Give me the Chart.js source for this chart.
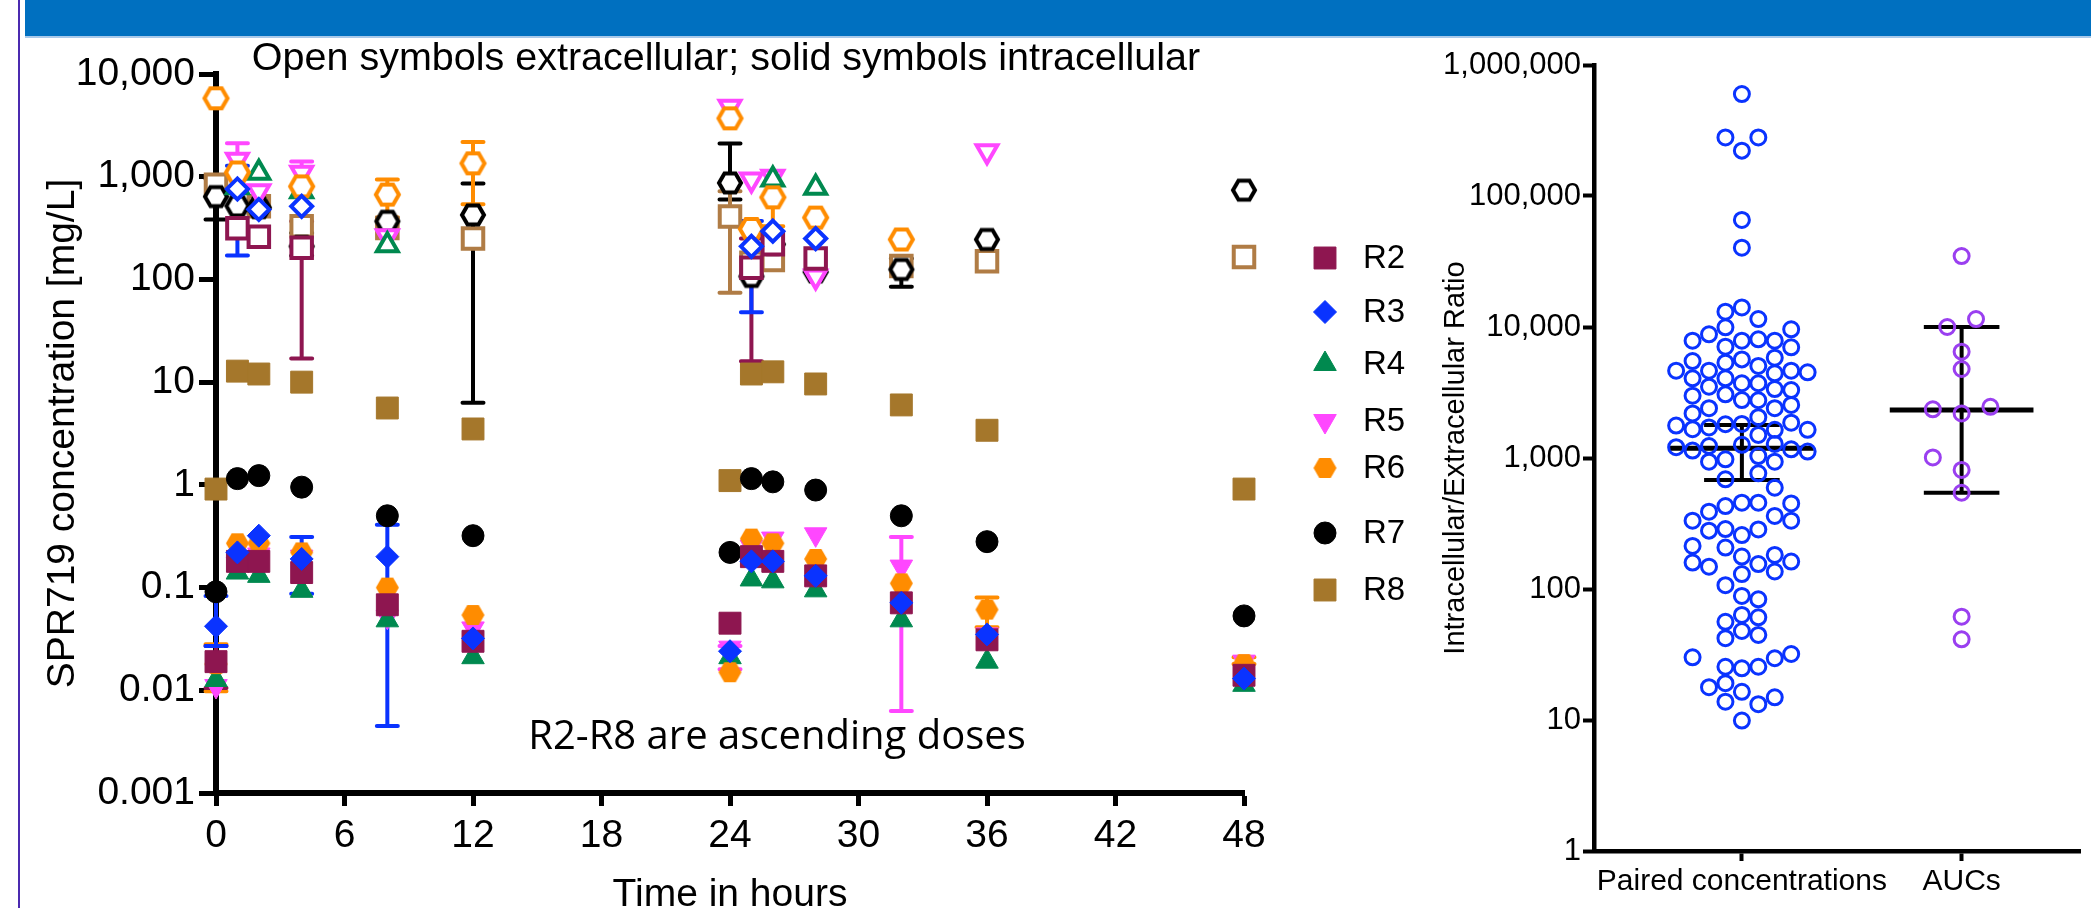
<!DOCTYPE html>
<html>
<head>
<meta charset="utf-8">
<script src="https://cdn.jsdelivr.net/npm/chart.js@4.4.1/dist/chart.umd.min.js"></script>
<style>
  html, body { margin: 0; padding: 0; background: #fff; overflow: hidden; }
  body { width: 2091px; height: 908px; position: relative; }
  #banner { position: absolute; left: 25px; top: 0; right: 0; height: 36px; background: #0070c0; border-bottom: 2px solid #a9c9ea; }
  #edge { position: absolute; left: 18px; top: 0; width: 2px; height: 908px; background: #4b2ab0; }
  #concChart { position: absolute; left: 0; top: 0; }
  #ratioChart { position: absolute; left: 1430px; top: 0; }
</style>
</head>
<body>
<div id="banner"></div>
<div id="edge"></div>
<canvas id="concChart" width="1430" height="940"></canvas>
<canvas id="ratioChart" width="661" height="940"></canvas>

<script>
// ---- data: SPR719 concentration vs time ----
const times = [0, 1, 2, 4, 8, 12, 24, 25, 26, 28, 32, 36, 48];
const doses = ['R2', 'R3', 'R4', 'R5', 'R6', 'R7', 'R8'];
const timeTicks = [0, 6, 12, 18, 24, 30, 36, 42, 48];
const concTicks = [0.001, 0.01, 0.1, 1, 10, 100, 1000, 10000];
const concTickLabels = ['0.001', '0.01', '0.1', '1', '10', '100', '1,000', '10,000'];

// intracellular (solid symbols)
const intraR2 = [0.019, 0.18, 0.18, 0.14, 0.068, 0.030, 0.045, 0.20, 0.18, 0.13, 0.071, 0.031, 0.014];
const intraR3 = [0.042, 0.22, 0.32, 0.19, 0.20, 0.032, 0.024, 0.18, 0.18, 0.13, 0.071, 0.035, 0.013];
const intraR4 = [0.0126, 0.14, 0.13, 0.093, 0.048, 0.021, 0.021, 0.12, 0.115, 0.094, 0.048, 0.019, 0.0113];
const intraR5 = [0.011, 0.17, 0.21, 0.20, 0.052, 0.040, 0.026, 0.25, 0.30, 0.33, 0.16, 0.035, 0.019];
const intraR6 = [0.018, 0.27, 0.27, 0.22, 0.10, 0.054, 0.015, 0.30, 0.27, 0.19, 0.11, 0.061, 0.018];
const intraR7 = [0.091, 1.15, 1.23, 0.95, 0.50, 0.32, 0.22, 1.15, 1.07, 0.89, 0.50, 0.28, 0.053];
const intraR8 = [0.91, 12.8, 12, 10, 5.6, 3.5, 1.1, 12, 12.6, 9.6, 6.0, 3.4, 0.91];

// extracellular (open symbols)
const extraR2 = [null, 315, 260, 203, null, null, null, 130, 220, 160, null, null, null];
const extraR3 = [null, 760, 480, 515, null, null, null, 210, 295, 250, null, null, null];
const extraR4 = [null, 790, 1090, 720, 215, null, null, null, 940, 780, null, null, null];
const extraR5 = [null, 1460, 720, 1090, 263, null, 4800, 940, 1000, 107, null, 1770, null];
const extraR6 = [5800, 1100, null, 805, 670, 1350, 3700, 310, 630, 400, 245, null, null];
const extraR7 = [640, 520, 500, 210, 368, 425, 870, 107, 220, 118, 125, 245, 740];
const extraR8 = [836, null, 515, 330, 316, 250, 410, 145, 155, null, 135, 150, 165];

// error bars: [time, low, high]
const errIntraR2 = [[0, 0.0105, 0.027]];
const errIntraR3 = [[0, 0.027, 0.083], [4, 0.087, 0.31], [8, 0.0045, 0.41]];
const errIntraR5 = [[24, 0.016, 0.027], [32, 0.0063, 0.31]];
const errIntraR6 = [[0, 0.0098, 0.028], [36, 0.041, 0.08], [48, 0.018, 0.021]];
const errExtraR2 = [[4, 17, 368], [25, 16, 250]];
const errExtraR3 = [[1, 171, 1280], [25, 48, 370]];
const errExtraR5 = [[1, 1000, 2120], [4, 800, 1410]];
const errExtraR6 = [[8, 400, 940], [12, 540, 2180], [26, 330, 630]];
const errExtraR7 = [[0, 383, 950], [4, 170, 283], [12, 6.3, 860], [24, 600, 2100], [32, 85, 160]];
const errExtraR8 = [[24, 74, 720]];

// ---- data: intracellular / extracellular ratio ----
const ratioCategories = ['Paired concentrations', 'AUCs'];
const ratioTicks = [1, 10, 100, 1000, 10000, 100000, 1000000];
const ratioTickLabels = ['1', '10', '100', '1,000', '10,000', '100,000', '1,000,000'];
const pairedRatio = [600000, 280000, 280000, 222000, 65600, 40300,
  14100, 13100, 11500, 9950, 9600, 8800, 8060, 7860, 7860, 7860, 7080, 7000,
  5830, 5660, 5500, 5340, 5040, 4640, 4640, 4640, 4510, 4430,
  4060, 4060, 3720, 3720, 3500, 3360, 3300, 3060, 2990, 2770, 2760, 2540,
  2400, 2400, 2190, 2050, 1860, 1820, 1810, 1770, 1710, 1660, 1640, 1640, 1500,
  1280, 1260, 1235, 1210, 1165, 1140, 1120, 1035, 977, 937, 937, 764, 688, 593,
  456, 456, 450, 430, 389, 361, 332, 332, 287, 285, 279, 258,
  213, 207, 182, 177, 162, 159, 155, 148, 136, 130, 107,
  88.5, 83.4, 63.4, 60.8, 56.2, 47.8, 44.6, 42.1,
  31.9, 30.1, 29.6, 25.5, 25.5, 24.8, 19.1, 17.8, 16.4, 14.9, 13.8, 13.2, 9.9];
// swarm column of each point (0 = category centre)
const pairedLane = [0, -1, 1, 0, 0, 0,
  0, -1, 1, -1, 3, -2, 1, -3, 0, 2, -1, 3,
  2, 0, -3, -1, 1, -4, -2, 3, 4, 2,
  -3, -1, 0, 1, -2, 2, 3, -1, -3, 0, 1, 3,
  -2, 2, -3, 1, 3, 0, -1, -4, -2, -3, 2, 4, 1,
  2, 0, -2, -4, 3, -3, 4, 1, -1, -2, 2, 1, -1, 2,
  0, 1, 3, -1, -2, 2, -3, 3, -1, 1, -2, 0,
  -3, -1, 2, 0, 3, -3, 1, -2, 2, 0, -1,
  0, 1, 0, 1, -1, 0, 1, -1,
  3, -3, 2, -1, 1, 0, -1, -2, 0, 2, -1, 1, 0];
const aucRatio = [34800, 11500, 10000, 6480, 4780, 2460, 2355, 2190, 1010, 810, 543, 61.5, 41.3];
const aucLane = [0, 1, -1, 0, 0, 2, -2, 0, -2, 0, 0, 0, 0];
// [low, median, high]
const pairedSpread = [679, 1185, 1785];
const aucSpread = [543, 2320, 10000];

// ---- styles ----
const FONT = "'Liberation Sans', Arial, sans-serif";
Chart.defaults.font.family = FONT;
Chart.defaults.color = '#000';

const doseColor = { R2: '#8e1650', R3: '#0a33ff', R4: '#00894f', R5: '#ff47ff', R6: '#ff8c00', R7: '#000000', R8: '#a5772b' };
const openColor = { R2: '#8e1650', R3: '#0a33ff', R4: '#00894f', R5: '#ff47ff', R6: '#ff8c00', R7: '#000000', R8: '#b07c45' };

function hexImage(R, fill, stroke, lw) {
  const pad = (lw || 0) + 2;
  const w = Math.ceil(2 * R + pad * 2), h = Math.ceil(Math.sqrt(3) * R + pad * 2);
  const c = document.createElement('canvas');
  c.width = w; c.height = h;
  const g = c.getContext('2d');
  g.beginPath();
  for (let i = 0; i < 6; i++) {
    const a = Math.PI / 3 * i;
    const px = w / 2 + R * Math.cos(a), py = h / 2 + R * Math.sin(a);
    if (i) g.lineTo(px, py); else g.moveTo(px, py);
  }
  g.closePath();
  if (fill) { g.fillStyle = fill; g.fill(); }
  if (stroke) { g.lineWidth = lw; g.strokeStyle = stroke; g.stroke(); }
  return c;
}

const solidStyle = {
  R2: { pointStyle: 'rect', radius: 15.5, rotation: 0 },
  R3: { pointStyle: 'rectRot', radius: 11.5, rotation: 0 },
  R4: { pointStyle: 'triangle', radius: 13, rotation: 0 },
  R5: { pointStyle: 'triangle', radius: 13, rotation: 180 },
  R6: { pointStyle: hexImage(11.5, doseColor.R6, null, 0), radius: 11, rotation: 0 },
  R7: { pointStyle: 'circle', radius: 11, rotation: 0 },
  R8: { pointStyle: 'rect', radius: 15.5, rotation: 0 }
};
const openStyle = {
  R2: { pointStyle: 'rect', radius: 14.5, rotation: 0 },
  R3: { pointStyle: 'rectRot', radius: 10.5, rotation: 0 },
  R4: { pointStyle: 'triangle', radius: 12, rotation: 0 },
  R5: { pointStyle: 'triangle', radius: 12, rotation: 180 },
  R6: { pointStyle: hexImage(11.5, '#fff', openColor.R6, 4), radius: 12, rotation: 0 },
  R7: { pointStyle: hexImage(11, '#fff', openColor.R7, 4), radius: 12, rotation: 0 },
  R8: { pointStyle: 'rect', radius: 14.5, rotation: 0 }
};
const drawOrder = { R3: 0, R2: 1, R6: 2, R4: 3, R5: 4, R7: 5, R8: 6 };

const intra = { R2: intraR2, R3: intraR3, R4: intraR4, R5: intraR5, R6: intraR6, R7: intraR7, R8: intraR8 };
const extra = { R2: extraR2, R3: extraR3, R4: extraR4, R5: extraR5, R6: extraR6, R7: extraR7, R8: extraR8 };
const errorSets = [
  { color: openColor.R7, bars: errExtraR7 },
  { color: openColor.R8, bars: errExtraR8 },
  { color: openColor.R6, bars: errExtraR6 },
  { color: openColor.R5, bars: errExtraR5 },
  { color: openColor.R2, bars: errExtraR2 },
  { color: openColor.R3, bars: errExtraR3 },
  { color: doseColor.R6, bars: errIntraR6 },
  { color: doseColor.R5, bars: errIntraR5 },
  { color: doseColor.R2, bars: errIntraR2 },
  { color: doseColor.R3, bars: errIntraR3 }
];

function toPoints(values) {
  return times.map((t, i) => ({ x: t, y: values[i] })).filter(p => p.y != null);
}

const concDatasets = [];
doses.forEach(d => {
  const s = solidStyle[d], o = openStyle[d];
  concDatasets.push({
    label: d,
    data: toPoints(intra[d]),
    pointStyle: s.pointStyle, pointRadius: s.radius, pointHoverRadius: s.radius, pointRotation: s.rotation,
    backgroundColor: doseColor[d], borderColor: doseColor[d], pointBorderWidth: 1,
    showLine: false, clip: false, order: drawOrder[d]
  });
  concDatasets.push({
    label: d + ' extracellular',
    data: toPoints(extra[d]),
    pointStyle: o.pointStyle, pointRadius: o.radius, pointHoverRadius: o.radius, pointRotation: o.rotation,
    backgroundColor: '#fff', borderColor: openColor[d], pointBorderWidth: 4,
    showLine: false, clip: false, order: 10 + drawOrder[d]
  });
});

const errorBarPlugin = {
  id: 'errorBars',
  beforeDatasetsDraw(chart) {
    const { ctx, scales: { x, y } } = chart;
    ctx.save();
    ctx.lineWidth = 4;
    ctx.lineCap = 'round';
    errorSets.forEach(es => {
      ctx.strokeStyle = es.color;
      es.bars.forEach(([t, lo, hi]) => {
        const px = x.getPixelForValue(t);
        const p1 = y.getPixelForValue(lo), p2 = y.getPixelForValue(hi);
        ctx.beginPath();
        ctx.moveTo(px, p1); ctx.lineTo(px, p2);
        ctx.moveTo(px - 10.5, p1); ctx.lineTo(px + 10.5, p1);
        ctx.moveTo(px - 10.5, p2); ctx.lineTo(px + 10.5, p2);
        ctx.stroke();
      });
    });
    ctx.restore();
  }
};

const legendRows = [258, 312, 364, 421, 468, 533, 590];
const concNotes = {
  id: 'concNotes',
  afterDraw(chart) {
    const ctx = chart.ctx;
    ctx.save();
    ctx.fillStyle = '#000';
    ctx.textAlign = 'center';
    ctx.textBaseline = 'alphabetic';
    ctx.font = '39.5px ' + FONT;
    ctx.fillText('Open symbols extracellular; solid symbols intracellular', 726, 70);
    ctx.font = "40px 'Open Sans', Lato, sans-serif";
    ctx.fillText('R2-R8 are ascending doses', 777, 749);

    // legend of dose groups
    doses.forEach((d, i) => {
      const s = solidStyle[d], yy = legendRows[i];
      ctx.fillStyle = doseColor[d];
      ctx.strokeStyle = doseColor[d];
      ctx.lineWidth = 1;
      Chart.helpers.drawPoint(ctx, { pointStyle: s.pointStyle, radius: s.radius, rotation: s.rotation, borderWidth: 1 }, 1325, yy);
      ctx.fillStyle = '#000';
      ctx.textAlign = 'left';
      ctx.textBaseline = 'middle';
      ctx.font = '33px ' + FONT;
      ctx.fillText(d, 1363, yy + 1);
    });
    ctx.restore();
  }
};

new Chart(document.getElementById('concChart'), {
  type: 'scatter',
  data: { datasets: concDatasets },
  options: {
    responsive: false,
    animation: false,
    events: [],
    layout: { padding: { top: 74, right: 186, bottom: 0, left: 0 } },
    plugins: { legend: { display: false }, tooltip: { enabled: false } },
    scales: {
      x: {
        type: 'linear', min: 0, max: 48,
        afterBuildTicks: s => { s.ticks = timeTicks.map(v => ({ value: v })); },
        afterFit: s => { s.height = 147; },
        border: { display: true, color: '#000', width: 6 },
        grid: { display: true, drawOnChartArea: false, drawTicks: true, tickLength: 13, tickWidth: 5, color: '#000', tickColor: '#000' },
        ticks: { font: { size: 39 }, color: '#000', padding: 7, maxRotation: 0, autoSkip: false },
        title: { display: true, text: 'Time in hours', font: { size: 39 }, color: '#000', padding: { top: 0, bottom: 21 } }
      },
      y: {
        type: 'logarithmic', min: 0.001, max: 10000,
        afterBuildTicks: s => { s.ticks = concTicks.map(v => ({ value: v })); },
        afterFit: s => { s.width = 216; },
        border: { display: true, color: '#000', width: 6 },
        grid: { display: true, drawOnChartArea: false, drawTicks: true, tickLength: 17, tickWidth: 5, color: '#000', tickColor: '#000' },
        ticks: { font: { size: 39 }, color: '#000', padding: 4, autoSkip: false, callback: (v, i) => concTickLabels[i] },
        title: { display: true, text: 'SPR719 concentration [mg/L]', font: { size: 39 }, color: '#000', padding: { top: 40, bottom: 0 } }
      }
    }
  },
  plugins: [errorBarPlugin, concNotes]
});

// ---- ratio chart ----
const PAIRED_LANE = 0.0748;
const AUC_LANE = 0.0655;
const MEDIAN_HALF = 0.327;
const CAP_HALF = 0.172;

const summaryPlugin = {
  id: 'summaryLines',
  beforeDatasetsDraw(chart) {
    const { ctx, scales: { x, y } } = chart;
    ctx.save();
    ctx.strokeStyle = '#000';
    [[0, pairedSpread], [1, aucSpread]].forEach(([cat, s]) => {
      const cx = x.getPixelForValue(cat);
      const half = x.getPixelForValue(cat + MEDIAN_HALF) - cx;
      const capHalf = x.getPixelForValue(cat + CAP_HALF) - cx;
      const yLo = y.getPixelForValue(s[0]), yMed = y.getPixelForValue(s[1]), yHi = y.getPixelForValue(s[2]);
      ctx.lineWidth = 4;
      ctx.beginPath();
      ctx.moveTo(cx, yLo); ctx.lineTo(cx, yHi);
      ctx.moveTo(cx - capHalf, yLo); ctx.lineTo(cx + capHalf, yLo);
      ctx.moveTo(cx - capHalf, yHi); ctx.lineTo(cx + capHalf, yHi);
      ctx.stroke();
      ctx.lineWidth = 5;
      ctx.beginPath();
      ctx.moveTo(cx - half, yMed); ctx.lineTo(cx + half, yMed);
      ctx.stroke();
    });
    ctx.restore();
  }
};

new Chart(document.getElementById('ratioChart'), {
  type: 'scatter',
  data: {
    datasets: [
      {
        label: ratioCategories[0],
        data: pairedRatio.map((v, i) => ({ x: 0 + pairedLane[i] * PAIRED_LANE, y: v })),
        pointStyle: 'circle', pointRadius: 7.5, pointHoverRadius: 7.5,
        borderColor: '#0a33ff', backgroundColor: 'rgba(0,0,0,0)', pointBorderWidth: 3,
        showLine: false, clip: false
      },
      {
        label: ratioCategories[1],
        data: aucRatio.map((v, i) => ({ x: 1 + aucLane[i] * AUC_LANE, y: v })),
        pointStyle: 'circle', pointRadius: 7.5, pointHoverRadius: 7.5,
        borderColor: '#9a3ff0', backgroundColor: 'rgba(0,0,0,0)', pointBorderWidth: 3,
        showLine: false, clip: false
      }
    ]
  },
  options: {
    responsive: false,
    animation: false,
    events: [],
    layout: { padding: { top: 65, right: 0, bottom: 0, left: 0 } },
    plugins: { legend: { display: false }, tooltip: { enabled: false } },
    scales: {
      x: {
        type: 'linear', min: -0.673, max: 1.541,
        afterBuildTicks: s => { s.ticks = ratioCategories.map((c, i) => ({ value: i })); },
        afterFit: s => { s.height = 89; },
        border: { display: true, color: '#000', width: 4.5 },
        grid: { display: true, drawOnChartArea: false, drawTicks: true, tickLength: 10, tickWidth: 4, color: '#000', tickColor: '#000' },
        ticks: { font: { size: 30 }, color: '#000', padding: 3, maxRotation: 0, autoSkip: false, callback: (v, i) => ratioCategories[i] }
      },
      y: {
        type: 'logarithmic', min: 1, max: 1000000,
        afterBuildTicks: s => { s.ticks = ratioTicks.map(v => ({ value: v })); },
        afterFit: s => { s.width = 164; },
        border: { display: true, color: '#000', width: 4.5 },
        grid: { display: true, drawOnChartArea: false, drawTicks: true, tickLength: 11, tickWidth: 4, color: '#000', tickColor: '#000' },
        ticks: { font: { size: 31 }, color: '#000', padding: 2, autoSkip: false, callback: (v, i) => ratioTickLabels[i] },
        title: { display: true, text: 'Intracellular/Extracellular Ratio', font: { size: 29 }, color: '#000', padding: { top: 9, bottom: 0 } }
      }
    }
  },
  plugins: [summaryPlugin]
});
</script>
</body>
</html>
